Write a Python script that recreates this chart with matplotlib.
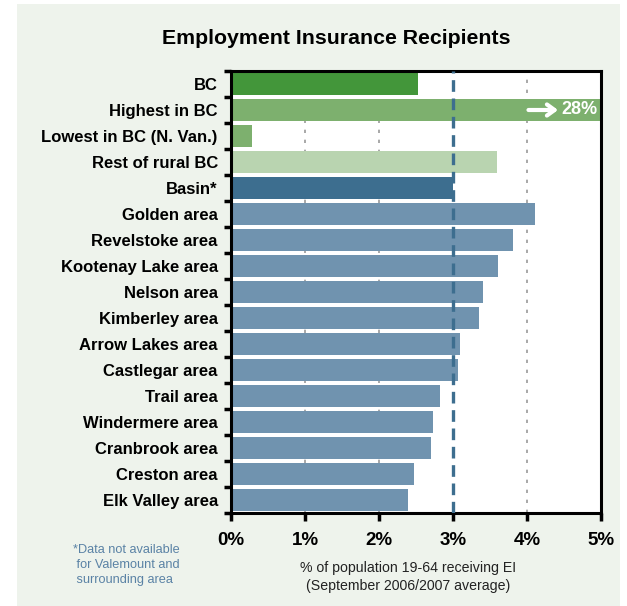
import numpy as np
import matplotlib.pyplot as plt
from matplotlib.patches import Rectangle

labels = ['BC', 'Highest in BC', 'Lowest in BC (N. Van.)', 'Rest of rural BC',
          'Basin*', 'Golden area', 'Revelstoke area', 'Kootenay Lake area',
          'Nelson area', 'Kimberley area', 'Arrow Lakes area', 'Castlegar area',
          'Trail area', 'Windermere area', 'Cranbrook area', 'Creston area',
          'Elk Valley area']
values = [2.53, 28.0, 0.28, 3.60, 3.0, 4.11, 3.81, 3.61, 3.41, 3.35, 3.09,
          3.07, 2.82, 2.73, 2.70, 2.47, 2.39]
colors = ['#43963a', '#7db06e', '#7db06e', '#b9d4b0', '#3d6e8f'] + ['#7093af'] * 12
basin_value = 3.0
xticks = [0, 1, 2, 3, 4, 5]
xticklabels = ['0%', '1%', '2%', '3%', '4%', '5%']

plt.rcParams['font.family'] = ['Liberation Sans', 'DejaVu Sans']

fig = plt.figure(figsize=(6.27, 6.06), dpi=100)
fig.patch.set_facecolor('white')
# light green panel behind everything
fig.patches.append(Rectangle((17/627, 0), 603/627, 602/606, transform=fig.transFigure,
                             facecolor='#eef3ec', edgecolor='none', zorder=-5))

ax = fig.add_axes([231/627, 93/606, 370/627, 442/606])
ax.set_zorder(2)
ax.set_facecolor('white')

y = np.arange(len(labels))
ax.barh(y, values, height=0.84, color=colors, zorder=2)

# gridlines at 1,2,4
for gx in [1, 2, 4]:
    ax.axvline(gx, color='#999999', linestyle=(0, (2, 4)), linewidth=1.2, zorder=1)
# Basin reference line
ax.axvline(basin_value, color='#3d6e8f', linestyle=(0, (3.5, 2)), linewidth=2.4, zorder=3)

ax.set_xlim(0, 5)
ax.set_ylim(len(labels) - 0.5, -0.5)

ax.set_xticks(xticks)
ax.set_xticklabels(xticklabels, fontsize=13.5, fontweight='bold')
ax.set_yticks(y)
ax.set_yticklabels(labels, fontsize=12, fontweight='bold')
ax.tick_params(axis='y', length=0, pad=9.5)
ax.set_yticks(np.arange(len(labels) + 1) - 0.5, minor=True)
ax.tick_params(axis='y', which='minor', length=5, width=2.5, color='black')
ax.tick_params(axis='x', length=6, width=2.5, color='black', pad=8)

for s in ax.spines.values():
    s.set_linewidth(2.2)
    s.set_color('black')

# highest value annotation
ax.annotate('', xy=(4.42, 1), xytext=(4.02, 1),
            arrowprops=dict(arrowstyle='->, head_length=0.55, head_width=0.4',
                            color='white', lw=3, shrinkA=0, shrinkB=0),
            zorder=4)
ax.text(4.95, 1, '28%', color='white', fontsize=13, fontweight='bold',
        ha='right', va='center', zorder=4)

fig.text(336/627, 1 - 38/606, 'Employment Insurance Recipients', ha='center',
         va='center', fontsize=15.3, fontweight='bold')

fig.text(408/627, 1 - 577/606, '% of population 19-64 receiving EI\n(September 2006/2007 average)',
         ha='center', va='center', fontsize=10.2, color='#222222', linespacing=1.35)

fig.text(73/627, 1 - 565/606, '*Data not available\n for Valemount and\n surrounding area',
         ha='left', va='center', fontsize=9.2, color='#5a82a5', linespacing=1.28)

fig.savefig('out.png', dpi=100, facecolor=fig.get_facecolor())
